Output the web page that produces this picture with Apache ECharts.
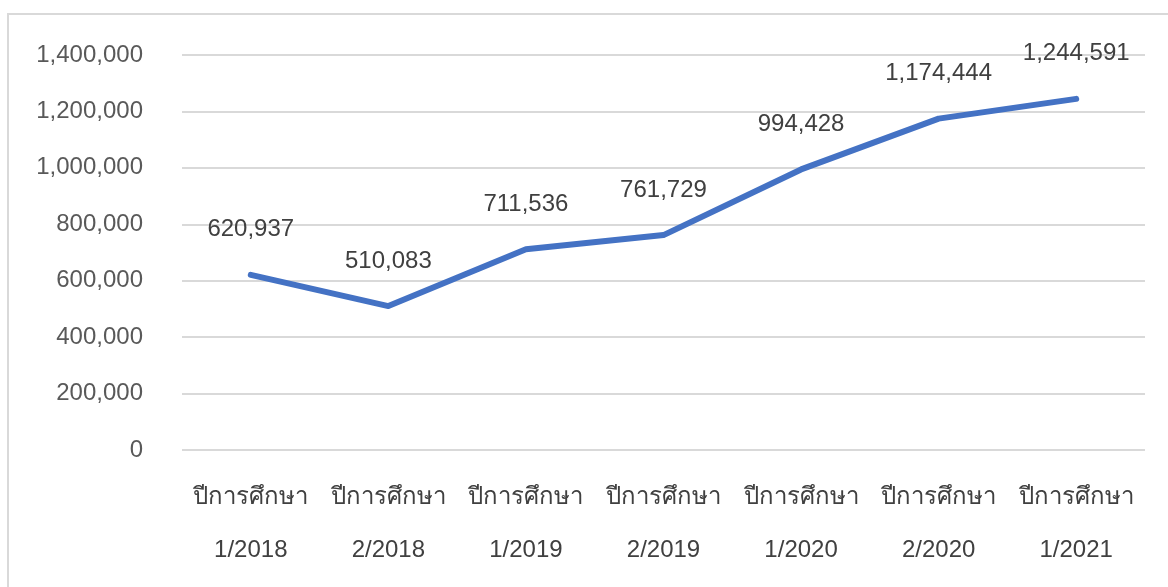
<!DOCTYPE html>
<html>
<head>
<meta charset="utf-8">
<script src="https://cdn.jsdelivr.net/npm/echarts@6/dist/echarts.min.js"></script>
<style>
	html, body { margin: 0; padding: 0; background: #fff; overflow: hidden; }
	#frame { position: absolute; left: 7px; top: 13px; width: 1200px; height: 620px; border: 2px solid #d9d9d9; box-sizing: border-box; }
	#chart { position: absolute; left: 0; top: 0; width: 1168px; height: 587px; }
</style>
</head>
<body>
<div id="frame"></div>
<div id="chart"></div>
<script>
// ภาคเรียน / ปีการศึกษา
var terms = ['1/2018', '2/2018', '1/2019', '2/2019', '1/2020', '2/2020', '1/2021']
var values = [620937, 510083, 711536, 761729, 994428, 1174444, 1244591]
var yTicks = [0, 200000, 400000, 600000, 800000, 1000000, 1200000, 1400000]

var font = '"Liberation Sans", "Noto Sans", sans-serif'
var categories = terms.map(function(t) { return 'ปีการศึกษา\n' + t })

var myChart = echarts.init(document.getElementById('chart'))
var option = {
	animation: false,
	grid: { left: 182, right: 23, top: 55, bottom: 137, containLabel: false },
	xAxis: {
		type: 'category',
		data: categories,
		boundaryGap: true,
		axisLine: { show: false },
		axisTick: { show: false },
		axisLabel: {
			margin: 21,
			color: '#404040',
			fontSize: 24,
			fontFamily: font,
			lineHeight: 53,
			interval: 0
		}
	},
	yAxis: {
		type: 'value',
		min: yTicks[0],
		max: yTicks[yTicks.length - 1],
		interval: 200000,
		axisLine: { show: false },
		axisTick: { show: false },
		splitLine: { lineStyle: { color: '#d9d9d9', width: 2 } },
		axisLabel: {
			margin: 39,
			color: '#595959',
			fontSize: 24,
			fontFamily: font,
			formatter: function(v) { return v.toLocaleString('en-US') }
		}
	},
	series: [{
		type: 'line',
		data: values,
		symbol: 'circle',
		symbolSize: 2,
		showSymbol: true,
		// จุดโปร่งใส เพื่อให้ป้ายตัวเลขยังแสดงอยู่
		itemStyle: { color: 'rgba(68,114,196,0)', borderWidth: 0 },
		lineStyle: { color: '#4472c4', width: 6, cap: 'round', join: 'round' },
		label: {
			show: true,
			position: 'top',
			distance: 32,
			opacity: 1,
			color: '#404040',
			fontSize: 24,
			fontFamily: font,
			formatter: function(p) { return p.value.toLocaleString('en-US') }
		}
	}]
}
myChart.setOption(option)
</script>
</body>
</html>
